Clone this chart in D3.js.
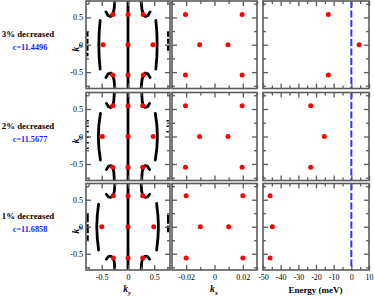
<!DOCTYPE html>
<html><head><meta charset="utf-8">
<script src="https://cdn.jsdelivr.net/npm/d3@7"></script>
<style>body{margin:0;background:#fff}text{font-family:"Liberation Serif","Times New Roman",serif}</style>
</head><body><svg id="c" width="374" height="300"></svg>
<script>
// ---------- data ----------
const rowLabels = ["3% decreased", "2% decreased", "1% decreased"];
const cLabels = ["c=11.4496", "c=11.5677", "c=11.6858"];

const kyTicks = [-0.5, 0, 0.5];
const kyMinor = [-0.75, -0.25, 0.25, 0.75];
const kzTicks = [-0.5, 0, 0.5];
const kzMinor = [-0.75, -0.25, 0.25, 0.75];
const kxTicks = [-0.02, 0, 0.02];
const kxMinor = [-0.03, -0.01, 0.01, 0.03];
const enTicks = [-50, -40, -30, -20, -10, 0, 10];
const enMinor = [-45, -35, -25, -15, -5, 5];

// red points in (ky, kz)
const kyKzDots3 = [[-0.29,0.555],[0,0.555],[0.29,0.555],[-0.475,0],[0,0],[0.475,0],[-0.29,-0.555],[0,-0.555],[0.29,-0.555]];
const kyKzDots2 = [[-0.29,0.56],[0,0.56],[0.28,0.56],[-0.49,0],[0,0],[0.48,0],[-0.29,-0.56],[0,-0.56],[0.28,-0.56]];
const kyKzDots1 = [[-0.28,0.575],[0,0.575],[0.28,0.575],[-0.5,0],[0,0],[0.49,0],[-0.28,-0.58],[0,-0.58],[0.28,-0.58]];

// red points in (kx, kz)
const kxKzDots3 = [[-0.0205,0.555],[0.0195,0.555],[-0.0105,0],[0.0095,0],[-0.0205,-0.555],[0.0195,-0.555]];
const kxKzDots2 = [[-0.0205,0.56],[0.0195,0.56],[-0.0105,0],[0.0095,0],[-0.0205,-0.56],[0.0195,-0.56]];
const kxKzDots1 = [[-0.02,0.575],[0.02,0.575],[-0.01,0],[0.01,0],[-0.02,-0.58],[0.02,-0.58]];

// red points in (energy meV, kz)
const enKzDots3 = [[-13,0.555],[4.4,0],[-13,-0.555]];
const enKzDots2 = [[-23,0.56],[-15.3,0],[-23,-0.56]];
const enKzDots1 = [[-46,0.575],[-44.7,0],[-46,-0.58]];

// Fermi-surface contours in (ky, kz)
const fsLines3 = [
  [[0,-0.8],[0,0.8]],
  [[-0.53,0.445],[-0.55,0.22],[-0.555,0],[-0.55,-0.22],[-0.53,-0.445]],
  [[0.53,0.445],[0.55,0.22],[0.555,0],[0.55,-0.22],[0.53,-0.445]],
  [[-0.42,0.6],[-0.38,0.535],[-0.33,0.52],[-0.29,0.555],[-0.265,0.65],[-0.25,0.8]],
  [[0.42,0.6],[0.38,0.535],[0.33,0.52],[0.29,0.555],[0.265,0.65],[0.25,0.8]],
  [[-0.42,-0.6],[-0.38,-0.535],[-0.33,-0.52],[-0.29,-0.555],[-0.265,-0.65],[-0.25,-0.8]],
  [[0.42,-0.6],[0.38,-0.535],[0.33,-0.52],[0.29,-0.555],[0.265,-0.65],[0.25,-0.8]]
];
const fsEdges3 = [[[-0.775,0.24],[-0.775,-0.21]], [[0.765,0.24],[0.765,-0.15]]];

const fsLines2 = [
  [[0,-0.8],[0,0.8]],
  [[-0.525,0.42],[-0.555,0.21],[-0.565,0],[-0.555,-0.21],[-0.525,-0.43]],
  [[0.52,0.42],[0.55,0.21],[0.56,0],[0.55,-0.21],[0.52,-0.43]],
  [[-0.41,0.6],[-0.37,0.54],[-0.33,0.53],[-0.29,0.56],[-0.27,0.65],[-0.26,0.8]],
  [[0.41,0.6],[0.37,0.54],[0.33,0.53],[0.29,0.56],[0.27,0.65],[0.26,0.8]],
  [[-0.41,-0.6],[-0.37,-0.54],[-0.33,-0.53],[-0.29,-0.56],[-0.27,-0.65],[-0.26,-0.8]],
  [[0.41,-0.6],[0.37,-0.54],[0.33,-0.53],[0.29,-0.56],[0.27,-0.65],[0.26,-0.8]]
];
const fsEdges2 = [[[-0.77,0.3],[-0.77,-0.25]], [[0.755,0.3],[0.755,0.0]]];

const fsLines1 = [
  [[0,-0.8],[0,0.8]],
  [[-0.56,0.42],[-0.585,0.21],[-0.595,0],[-0.585,-0.21],[-0.56,-0.43]],
  [[0.545,0.43],[0.57,0.21],[0.58,0],[0.57,-0.21],[0.545,-0.43]],
  [[-0.41,0.6],[-0.37,0.55],[-0.33,0.545],[-0.28,0.575],[-0.26,0.66],[-0.25,0.8]],
  [[0.41,0.6],[0.37,0.55],[0.33,0.545],[0.28,0.575],[0.26,0.66],[0.25,0.8]],
  [[-0.41,-0.6],[-0.37,-0.55],[-0.33,-0.545],[-0.28,-0.58],[-0.26,-0.66],[-0.25,-0.8]],
  [[0.41,-0.6],[0.37,-0.55],[0.33,-0.545],[0.28,-0.58],[0.26,-0.66],[0.25,-0.8]]
];
const fsEdges1 = [[[-0.77,0.25],[-0.77,-0.26]], [[0.765,0.22],[0.765,-0.1]]];

// ---------- layout ----------
const rows = [
  {label: rowLabels[0], c: cLabels[0], ky: kyKzDots3, kx: kxKzDots3, en: enKzDots3, fs: fsLines3, edges: fsEdges3, dash: "5,2"},
  {label: rowLabels[1], c: cLabels[1], ky: kyKzDots2, kx: kxKzDots2, en: enKzDots2, fs: fsLines2, edges: fsEdges2, dash: "1.5,4"},
  {label: rowLabels[2], c: cLabels[2], ky: kyKzDots1, kx: kxKzDots1, en: enKzDots1, fs: fsLines1, edges: fsEdges1, dash: "9,2"}
];
const rowY = [[1, 88.5], [92.5, 180.5], [183.5, 270]];
const colX = [[86, 170], [172, 257], [263, 369]];

const svg = d3.select("#c");
const xScales = [
  d3.scaleLinear().domain([-0.8, 0.8]).range(colX[0]),
  d3.scaleLinear().domain([-0.03, 0.03]).range(colX[1]),
  d3.scaleLinear().domain([-50, 10]).range(colX[2])
];
const xMajor = [kyTicks, kxTicks, enTicks];
const xMinor = [kyMinor, kxMinor, enMinor];
const fmt = d => d === 0 ? "0" : String(d);

const frameCol = "#5a5a5a";
const line = (xs, ys) => d3.line().x(d => xs(d[0])).y(d => ys(d[1]));

rows.forEach((r, ri) => {
  const ys = d3.scaleLinear().domain([-0.8, 0.8]).range([rowY[ri][1], rowY[ri][0]]);
  const cy = ys(0);

  for (let ci = 0; ci < 3; ci++) {
    const xs = xScales[ci];
    const g = svg.append("g");
    const cid = `clip${ri}${ci}`;
    svg.append("clipPath").attr("id", cid).append("rect")
      .attr("x", colX[ci][0]).attr("y", rowY[ri][0])
      .attr("width", colX[ci][1] - colX[ci][0]).attr("height", rowY[ri][1] - rowY[ri][0]);
    const pg = g.append("g").attr("clip-path", `url(#${cid})`);

    if (ci === 0) {
      pg.selectAll("path.fs").data(r.fs).join("path").attr("class", "fs")
        .attr("d", line(xs, ys)).attr("fill", "none").attr("stroke", "#000")
        .attr("stroke-width", 2.8).attr("stroke-linecap", "round");
      pg.selectAll("path.edge").data(r.edges).join("path").attr("class", "edge")
        .attr("d", line(xs, ys)).attr("fill", "none").attr("stroke", "#000")
        .attr("stroke-width", 2.4).attr("stroke-dasharray", r.dash);
    }
    if (ci === 2) {
      pg.append("line").attr("x1", xs(0)).attr("x2", xs(0))
        .attr("y1", rowY[ri][0]).attr("y2", rowY[ri][1])
        .attr("stroke", "#3030ff").attr("stroke-width", 2).attr("stroke-dasharray", "7,2.5");
    }
    const dots = ci === 0 ? r.ky : ci === 1 ? r.kx : r.en;
    pg.selectAll("circle").data(dots).join("circle")
      .attr("cx", d => xs(d[0])).attr("cy", d => ys(d[1])).attr("r", 2.5).attr("fill", "#ff0000");

    // axes (inward ticks on all four sides)
    const bottom = g.append("g").attr("transform", `translate(0,${rowY[ri][1]})`);
    bottom.call(d3.axisBottom(xs).tickValues(xMajor[ci]).tickSize(-5).tickPadding(4)
      .tickFormat(ri === 2 ? fmt : () => ""));
    bottom.append("g").call(d3.axisBottom(xs).tickValues(xMinor[ci]).tickSize(-3).tickFormat(() => ""));
    const top = g.append("g").attr("transform", `translate(0,${rowY[ri][0]})`);
    top.call(d3.axisTop(xs).tickValues(xMajor[ci]).tickSize(-5).tickFormat(() => ""));
    top.append("g").call(d3.axisTop(xs).tickValues(xMinor[ci]).tickSize(-3).tickFormat(() => ""));
    const left = g.append("g").attr("transform", `translate(${colX[ci][0]},0)`);
    left.call(d3.axisLeft(ys).tickValues(kzTicks).tickSize(-5).tickPadding(3)
      .tickFormat(ci === 0 ? fmt : () => ""));
    left.append("g").call(d3.axisLeft(ys).tickValues(kzMinor).tickSize(-3).tickFormat(() => ""));
    const right = g.append("g").attr("transform", `translate(${colX[ci][1]},0)`);
    right.call(d3.axisRight(ys).tickValues(kzTicks).tickSize(-5).tickFormat(() => ""));
    right.append("g").call(d3.axisRight(ys).tickValues(kzMinor).tickSize(-3).tickFormat(() => ""));
    g.selectAll(".domain").remove();
    g.selectAll(".tick line").attr("stroke", frameCol).attr("stroke-width", 1.3);
    g.selectAll(".tick text").attr("font-size", 8).attr("fill", "#000")
      .style("font-family", "'Liberation Serif', serif");

    g.append("rect").attr("x", colX[ci][0]).attr("y", rowY[ri][0])
      .attr("width", colX[ci][1] - colX[ci][0]).attr("height", rowY[ri][1] - rowY[ri][0])
      .attr("fill", "none").attr("stroke", frameCol).attr("stroke-width", 1.6);
  }

  // row labels
  svg.append("text").attr("x", 28).attr("y", cy - 8).attr("text-anchor", "middle")
    .attr("font-size", 8.8).attr("font-weight", "bold").attr("fill", "#000").text(r.label);
  svg.append("text").attr("x", 30).attr("y", cy + 5.5).attr("text-anchor", "middle")
    .attr("font-size", 8.2).attr("font-weight", "bold").attr("fill", "#1a1aff").text(r.c);

  // kz axis title
  const kt = svg.append("text").attr("transform", `translate(79,${cy + 3}) rotate(-90)`)
    .attr("text-anchor", "middle").attr("font-size", 9.5).attr("font-weight", "bold").attr("font-style", "italic");
  kt.append("tspan").text("k");
  kt.append("tspan").attr("font-size", 6.5).attr("dy", 2.5).text("z");
});

// x axis titles
const kyT = svg.append("text").attr("x", 127).attr("y", 292).attr("text-anchor", "middle")
  .attr("font-size", 9.5).attr("font-weight", "bold").attr("font-style", "italic");
kyT.append("tspan").text("k");
kyT.append("tspan").attr("font-size", 6.5).attr("dy", 2.5).text("y");
const kxT = svg.append("text").attr("x", 214).attr("y", 292).attr("text-anchor", "middle")
  .attr("font-size", 9.5).attr("font-weight", "bold").attr("font-style", "italic");
kxT.append("tspan").text("k");
kxT.append("tspan").attr("font-size", 6.5).attr("dy", 2.5).text("x");
svg.append("text").attr("x", 315.5).attr("y", 293).attr("text-anchor", "middle")
  .attr("font-size", 9).attr("font-weight", "bold").text("Energy (meV)");
</script></body></html>
